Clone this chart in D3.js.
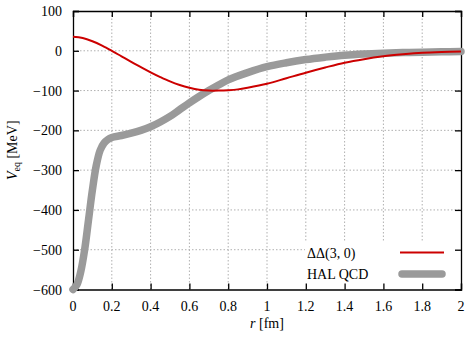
<!DOCTYPE html>
<html><head><meta charset="utf-8">
<script src="https://cdn.jsdelivr.net/npm/d3@7"></script>
</head><body style="margin:0;background:#fff">
<script>
const xTicks = [0, 0.2, 0.4, 0.6, 0.8, 1, 1.2, 1.4, 1.6, 1.8, 2];
const yTicks = [100, 0, -100, -200, -300, -400, -500, -600];
const seriesNames = ["ΔΔ(3, 0)", "HAL QCD"];
const rDD = [0, 0.05, 0.1, 0.15, 0.2, 0.25, 0.3, 0.35, 0.4, 0.45, 0.5, 0.55, 0.6, 0.65, 0.7, 0.75, 0.8, 0.85, 0.9, 1.0, 1.1, 1.2, 1.3, 1.4, 1.5, 1.6, 1.7, 1.8, 1.9, 2.0];
const vDD = [35, 32, 24, 13, 0, -14, -28, -41, -54, -66, -77, -86, -93, -98, -100, -100, -99, -97, -93, -83, -69, -55, -42, -30, -21, -14, -9, -5, -3, -2];
const rHAL = [0, 0.02, 0.04, 0.06, 0.08, 0.1, 0.12, 0.14, 0.16, 0.18, 0.2, 0.25, 0.3, 0.35, 0.4, 0.45, 0.5, 0.55, 0.6, 0.65, 0.7, 0.75, 0.8, 0.9, 1.0, 1.1, 1.2, 1.3, 1.4, 1.5, 1.6, 1.7, 1.8, 1.9, 2.0];
const vHAL = [-600, -588, -555, -500, -425, -350, -288, -250, -232, -223, -218, -213, -207, -200, -191, -179, -165, -148, -131, -115, -100, -86, -73, -55, -40, -30, -22, -16, -11, -8, -6, -4.5, -3.5, -2.5, -2];

const W = 469, H = 339;
const m = {l: 73, r: 8, t: 11, b: 49.5};
const FONT = "Liberation Serif";
const svg = d3.select("body").append("svg").attr("width", W).attr("height", H).style("display", "block");
const x = d3.scaleLinear().domain([0, 2]).range([m.l, W - m.r]);
const y = d3.scaleLinear().domain([-600, 100]).range([H - m.b, m.t]);

function label(px, py, anchor) {
  return svg.append("text").attr("x", px).attr("y", py).attr("text-anchor", anchor)
    .style("font-family", FONT).style("font-size", "14px");
}

// grid
const g = svg.append("g");
g.selectAll(".gx").data(xTicks.slice(1, -1)).join("line")
  .attr("x1", d => x(d)).attr("x2", d => x(d)).attr("y1", y(-600)).attr("y2", y(100))
  .attr("stroke", "#b0b0b0").attr("stroke-width", 1).attr("stroke-dasharray", "1.5,2");
g.selectAll(".gy").data(yTicks.slice(1, -1)).join("line")
  .attr("x1", x(0)).attr("x2", x(2)).attr("y1", d => y(d)).attr("y2", d => y(d))
  .attr("stroke", "#b0b0b0").attr("stroke-width", 1).attr("stroke-dasharray", "1.5,2");

// legend background
svg.append("rect").attr("x", 305).attr("y", 241).attr("width", x(2) - 305).attr("height", y(-600) - 241).attr("fill", "#fff");

// axes (ticks and frame)
const axB = svg.append("g").attr("transform", `translate(0,${y(-600)})`)
  .call(d3.axisBottom(x).tickValues(xTicks).tickSize(-6).tickFormat(""));
const axT = svg.append("g").attr("transform", `translate(0,${y(100)})`)
  .call(d3.axisTop(x).tickValues(xTicks).tickSize(-6).tickFormat(""));
const axL = svg.append("g").attr("transform", `translate(${x(0)},0)`)
  .call(d3.axisLeft(y).tickValues(yTicks).tickSize(-6).tickFormat(""));
const axR = svg.append("g").attr("transform", `translate(${x(2)},0)`)
  .call(d3.axisRight(y).tickValues(yTicks).tickSize(-6).tickFormat(""));
[axB, axT, axL, axR].forEach(a => {
  a.select(".domain").attr("stroke", "#000").attr("stroke-width", 1.3);
  a.selectAll(".tick line").attr("stroke", "#000").attr("stroke-width", 1.3);
});
// tick labels
xTicks.forEach(d => label(x(d), y(-600) + 21, "middle").text(d3.format("")(d)));
yTicks.forEach(d => label(x(0) - 11, y(d) + 5, "end").text(d < 0 ? "−" + Math.abs(d) : d));

// curves
const line = d3.line().curve(d3.curveCatmullRom.alpha(0.5));
svg.append("path").datum(rHAL.map((r, i) => [x(r), y(vHAL[i])]))
  .attr("d", line).attr("fill", "none").attr("stroke", "#9a9a9a").attr("stroke-width", 7.5)
  .attr("stroke-linecap", "round").attr("stroke-linejoin", "round");
svg.append("path").datum(rDD.map((r, i) => [x(r), y(vDD[i])]))
  .attr("d", line).attr("fill", "none").attr("stroke", "#cc0000").attr("stroke-width", 2);

// legend
label(307, 257.5, "start").text(seriesNames[0]);
svg.append("line").attr("x1", 400).attr("x2", 444).attr("y1", 252.5).attr("y2", 252.5)
  .attr("stroke", "#cc0000").attr("stroke-width", 2);
label(307, 279, "start").text(seriesNames[1]);
svg.append("line").attr("x1", 402).attr("x2", 442).attr("y1", 274).attr("y2", 274)
  .attr("stroke", "#9a9a9a").attr("stroke-width", 7.5).attr("stroke-linecap", "round");

// axis labels
const xl = label(x(1), 328, "middle");
xl.append("tspan").style("font-style", "italic").text("r");
xl.append("tspan").text(" [fm]");
const yl = label(0, 0, "middle").attr("transform", `translate(17,${(y(-600) + y(100)) / 2}) rotate(-90)`);
yl.append("tspan").style("font-style", "italic").text("V");
yl.append("tspan").style("font-size", "10px").attr("dy", 3).text("eq");
yl.append("tspan").attr("dy", -3).text(" [MeV]");
</script>
</body></html>
